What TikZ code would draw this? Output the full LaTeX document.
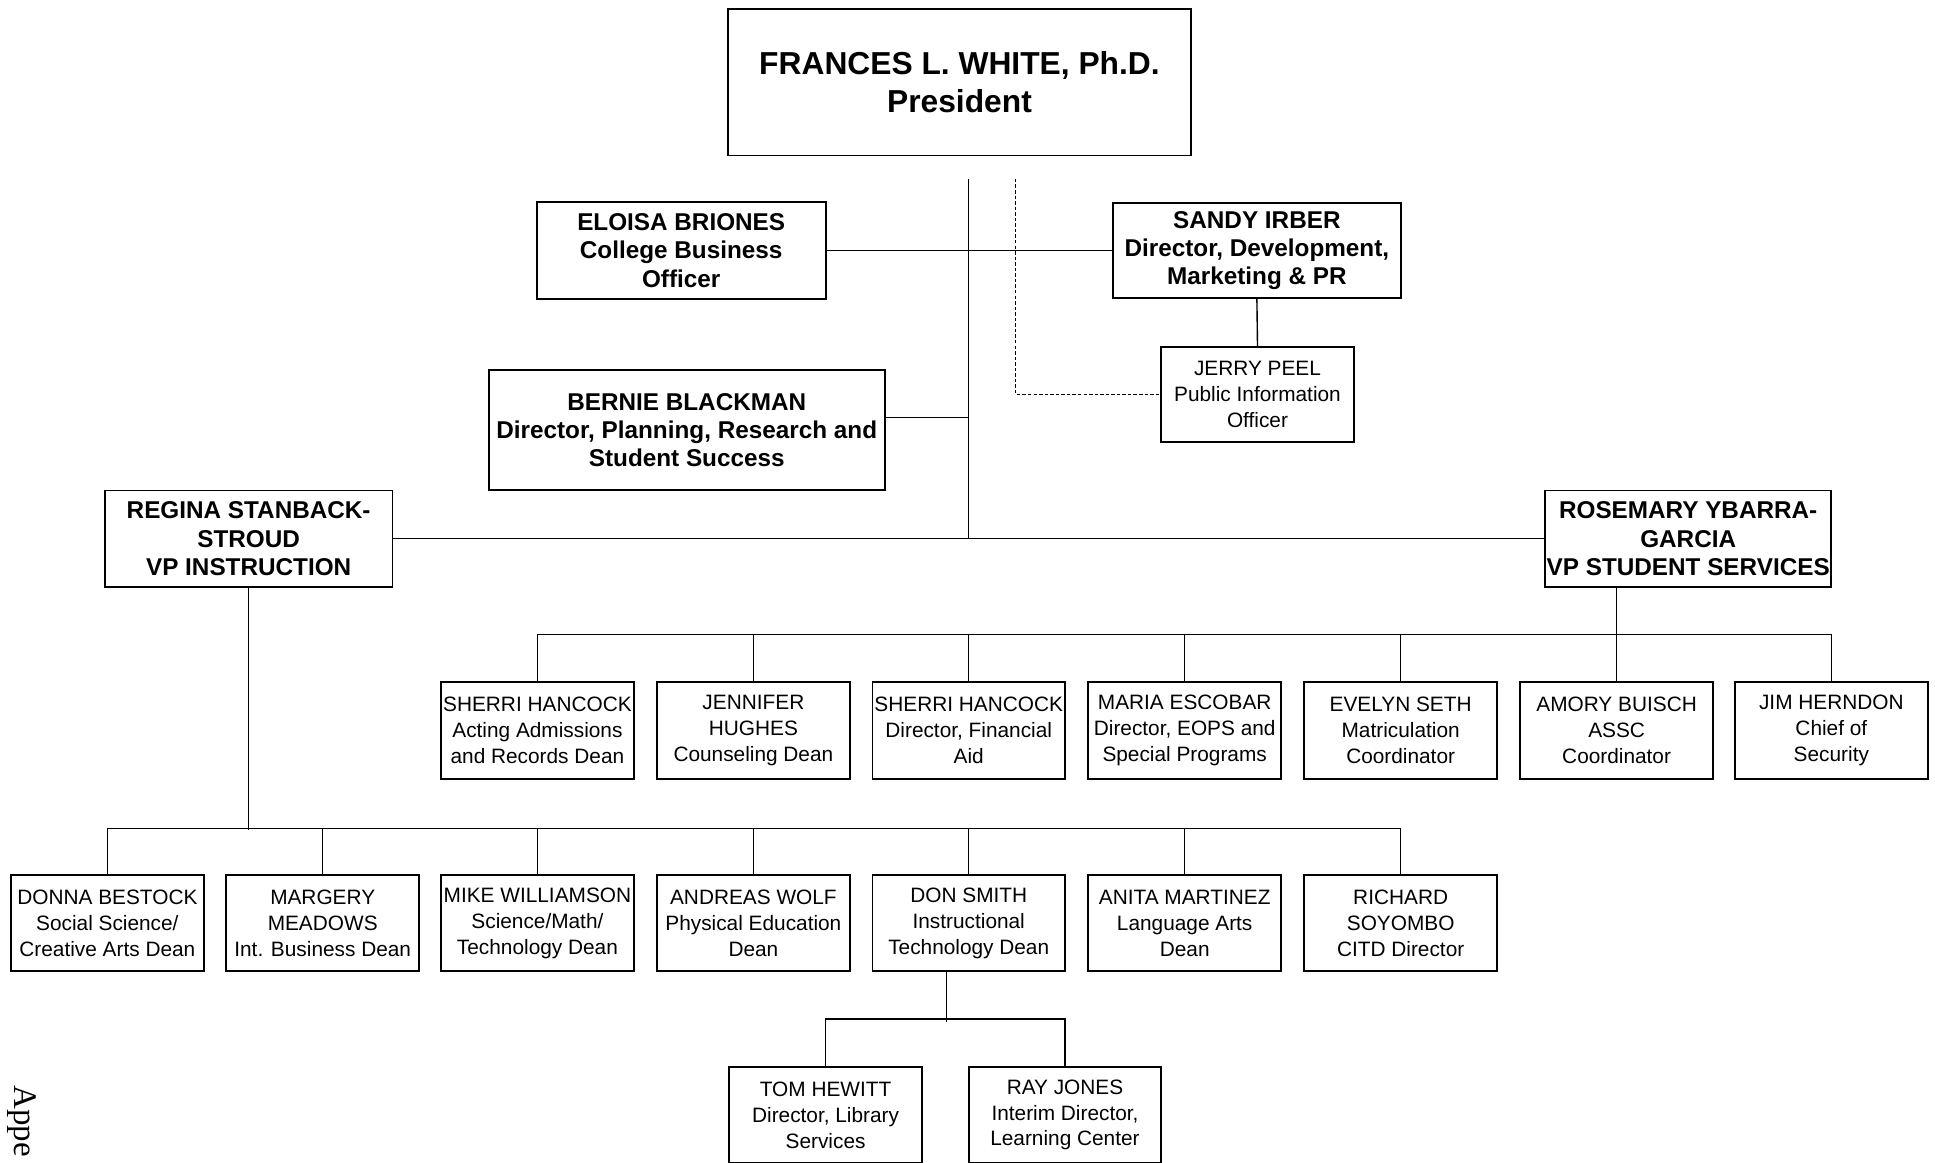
\documentclass[tikz,border=0pt]{standalone}
\usepackage{fontspec}
\setmainfont{Liberation Sans}
\newfontfamily\apxfont{Liberation Serif}

\begin{document}
\begin{tikzpicture}[x=.025cm, y=-.025cm, line width=0.8pt,
  box/.style={draw, line width=1.1pt, align=center, inner sep=0pt},
  topbox/.style={box, font=\fontsize{14}{16.3}\selectfont\bfseries},
  lowbox/.style={box, minimum width=3.9cm, minimum height=1.95cm, font=\fontsize{12}{14.9}\selectfont}]

\useasboundingbox (0,0) rectangle (1568,942);

\node[box, minimum width=9.375cm, minimum height=2.975cm, font=\fontsize{18.3}{22}\selectfont\bfseries] (pres) at (777.5,66.5) {FRANCES L. WHITE, Ph.D.\\President};

\node[topbox, minimum width=5.85cm, minimum height=1.95cm] (cbo) at (552,203) {ELOISA BRIONES\\College Business\\Officer};
\node[topbox, minimum width=5.825cm, minimum height=1.925cm] (devpr) at (1018.5,203) {SANDY IRBER\\Director, Development,\\Marketing \& PR};
\node[lowbox, minimum height=1.925cm] (pio) at (1019,319.5) {JERRY PEEL\\Public Information\\Officer};
\node[topbox, minimum width=8.025cm, minimum height=2.425cm] (plan) at (556.5,348.5) {BERNIE BLACKMAN\\Director, Planning, Research and\\Student Success};

\node[topbox, minimum width=5.825cm, minimum height=1.95cm] (vpi) at (201.5,436.5) {REGINA STANBACK-\\STROUD\\VP INSTRUCTION};
\node[topbox, minimum width=5.8cm, minimum height=1.95cm] (vpss) at (1368,436.5) {ROSEMARY YBARRA-\\GARCIA\\VP STUDENT SERVICES};

\coordinate (trunk) at (785,145);
\coordinate (dash) at (823,145);

\draw (trunk) -- (trunk |- vpi.east);
\draw (cbo.east) -- (devpr.west);
\draw ([yshift=0.25cm]plan.east) -- ([yshift=0.25cm]plan.east -| trunk);
\draw[dash pattern=on 2pt off 1.2pt, line width=0.7pt] (dash) |- (pio.west);
\draw (devpr.south) -- (pio.north);
\draw (vpi.east) -- (vpss.west);

\node[lowbox] (admis) at (435.5,592) {SHERRI HANCOCK\\Acting Admissions\\and Records Dean};
\node[lowbox] (couns) at (610.5,592) {JENNIFER\\HUGHES\\Counseling Dean};
\node[lowbox] (finaid) at (785,592) {SHERRI HANCOCK\\Director, Financial\\Aid};
\node[lowbox] (eops) at (960,592) {MARIA ESCOBAR\\Director, EOPS and\\Special Programs};
\node[lowbox] (matric) at (1135,592) {EVELYN SETH\\Matriculation\\Coordinator};
\node[lowbox] (assc) at (1310,592) {AMORY BUISCH\\ASSC\\Coordinator};
\node[lowbox] (secur) at (1484,592) {JIM HERNDON\\Chief of\\Security};

\draw (vpss.south -| assc.north) -- (assc.north);
\draw (admis.north) -- ++(0,-38) -| (secur.north);
\draw (couns.north) -- ++(0,-38);
\draw (finaid.north) -- ++(0,-38);
\draw (eops.north) -- ++(0,-38);
\draw (matric.north) -- ++(0,-38);

\node[lowbox] (socsci) at (87,748) {DONNA BESTOCK\\Social Science/\\Creative Arts Dean};
\node[lowbox] (intbus) at (261.5,748) {MARGERY\\MEADOWS\\Int. Business Dean};
\node[lowbox] (stem) at (435.5,748) {MIKE WILLIAMSON\\Science/Math/\\Technology Dean};
\node[lowbox] (physed) at (610.5,748) {ANDREAS WOLF\\Physical Education\\Dean};
\node[lowbox] (instech) at (785,748) {DON SMITH\\Instructional\\Technology Dean};
\node[lowbox] (langarts) at (960,748) {ANITA MARTINEZ\\Language Arts\\Dean};
\node[lowbox] (citd) at (1135,748) {RICHARD\\SOYOMBO\\CITD Director};

\draw (vpi.south) -- ++(0,196);
\draw (socsci.north) -- ++(0,-37) -| (citd.north);
\draw (intbus.north) -- ++(0,-37);
\draw (stem.north) -- ++(0,-37);
\draw (physed.north) -- ++(0,-37);
\draw (instech.north) -- ++(0,-37);
\draw (langarts.north) -- ++(0,-37);

\node[lowbox] (library) at (669,903.5) {TOM HEWITT\\Director, Library\\Services};
\node[lowbox] (learnctr) at (863,903.5) {RAY JONES\\Interim Director,\\Learning Center};

\draw ([xshift=-0.45cm]instech.south) -- ++(0,40);
\draw (library.north) -- ++(0,-38) -| (learnctr.north);

\node[font=\apxfont\fontsize{19}{19}\selectfont, rotate=-90, anchor=base west, inner sep=0pt] (apx) at (12,879) {Appe};

\end{tikzpicture}
\end{document}
